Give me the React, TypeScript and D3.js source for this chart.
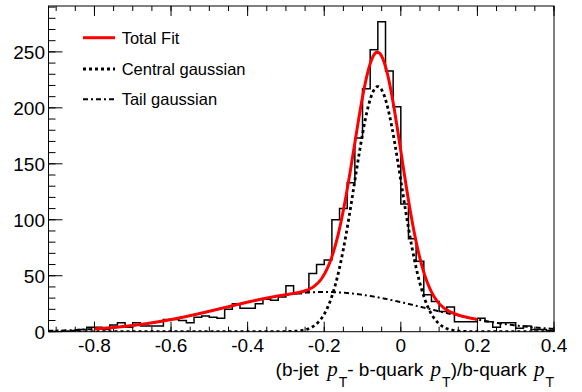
import React from "react";
import * as d3 from "d3";

// ---- data ----
const binStart = -0.92;
const binWidth = 0.02;
const binCounts = [
  0, 0, 0, 1, 2, 4, 4, 2, 6, 8, 4, 8, 5, 5, 5, 11, 11, 10, 8, 13,
  14, 13, 12, 20, 25, 21, 21, 25, 29, 28, 31, 41, 34, 36, 52, 60, 64, 100, 110, 133,
  173, 217, 252, 277, 233, 201, 114, 83, 63, 33, 27, 18, 22, 9, 9, 9, 12, 9, 4, 8,
  8, 3, 5, 2, 2, 1,
];
const binEdges = d3.range(binCounts.length + 1).map((i) => +(binStart + i * binWidth).toFixed(2));

// fit parameters (gaussians)
const centralGauss = { amp: 219, mean: -0.06, sigma: 0.061 };
const tailGauss = { amp: 35.5, mean: -0.2, sigma: 0.26 };
const fitRange = [-0.8, 0.2];

const xDomain = [-0.92, 0.4];
const yDomain = [0, 291];
const xMajorTicks = [-0.8, -0.6, -0.4, -0.2, 0, 0.2, 0.4];
const xTickLabels = ["-0.8", "-0.6", "-0.4", "-0.2", "0", "0.2", "0.4"];
const yMajorTicks = [0, 50, 100, 150, 200, 250];
const yTickLabels = ["0", "50", "100", "150", "200", "250"];
const legendLabels = ["Total Fit", "Central gaussian", "Tail gaussian"];

const W = 582;
const H = 392;
const L = 48.5, R = 554, T = 6, B = 331.7;
const FONT = "'Liberation Sans', Arial, Helvetica, sans-serif";
const SERIF = "'Liberation Serif', 'Times New Roman', serif";

function gauss(g: { amp: number; mean: number; sigma: number }, x: number) {
  return g.amp * Math.exp(-((x - g.mean) ** 2) / (2 * g.sigma * g.sigma));
}

export default function App() {
  const x = d3.scaleLinear().domain(xDomain).range([L, R]);
  const y = d3.scaleLinear().domain(yDomain).range([B, T]);

  // histogram outline
  const pts: [number, number][] = [[binEdges[0], 0]];
  binCounts.forEach((c, i) => {
    pts.push([binEdges[i], c]);
    pts.push([binEdges[i + 1], c]);
  });
  pts.push([binEdges[binEdges.length - 1], 0]);
  const line = d3.line<[number, number]>().x((d) => x(d[0])).y((d) => y(d[1]));
  const histPath = line(pts) || "";

  const fullXs = d3.range(xDomain[0], xDomain[1] + 1e-9, 0.002);
  const fitXs = d3.range(fitRange[0], fitRange[1] + 1e-9, 0.002);
  const totalPath = line(fitXs.map((v) => [v, gauss(centralGauss, v) + gauss(tailGauss, v)])) || "";
  const centralPath = line(fullXs.map((v) => [v, gauss(centralGauss, v)])) || "";
  const tailPath = line(fullXs.map((v) => [v, gauss(tailGauss, v)])) || "";

  const xMinor = d3.range(-0.9, 0.4 + 1e-9, 0.05).map((v) => +v.toFixed(2));
  const yMinor = d3.range(0, 291, 10);

  const clipId = "plotclip";

  return (
    <svg width={W} height={H} style={{ position: "absolute", left: 0, top: 0, background: "#fff" }}>
      <defs>
        <clipPath id={clipId}>
          <rect x={L} y={T} width={R - L} height={B - T} />
        </clipPath>
      </defs>
      <rect x={0} y={0} width={W} height={H} fill="#fff" />

      {/* ticks */}
      <g stroke="#000" strokeWidth={1}>
        {xMinor.map((v, i) => (
          <g key={"xm" + i}>
            <line x1={x(v)} x2={x(v)} y1={B} y2={B - 5} />
            <line x1={x(v)} x2={x(v)} y1={T} y2={T + 5} />
          </g>
        ))}
        {xMajorTicks.map((v, i) => (
          <g key={"xM" + i}>
            <line x1={x(v)} x2={x(v)} y1={B} y2={B - 10} />
            <line x1={x(v)} x2={x(v)} y1={T} y2={T + 10} />
          </g>
        ))}
        {yMinor.map((v, i) => (
          <line key={"ym" + i} x1={L} x2={L + 7} y1={y(v)} y2={y(v)} />
        ))}
        {yMajorTicks.map((v, i) => (
          <line key={"yM" + i} x1={L} x2={L + 14} y1={y(v)} y2={y(v)} />
        ))}
      </g>

      <g clipPath={`url(#${clipId})`}>
        <path d={histPath} fill="none" stroke="#000" strokeWidth={1.5} />
        <path d={tailPath} fill="none" stroke="#000" strokeWidth={2} strokeDasharray="5 3 2 3" />
        <path d={centralPath} fill="none" stroke="#000" strokeWidth={2.8} strokeDasharray="3 3" />
        <path d={totalPath} fill="none" stroke="#ff0000" strokeWidth={3} />
      </g>

      {/* frame */}
      <rect x={L} y={T} width={R - L} height={B - T} fill="none" stroke="#000" strokeWidth={1} />

      {/* tick labels */}
      <g fontFamily={FONT} fontSize={19} fill="#000">
        {xMajorTicks.map((v, i) => (
          <text key={"xl" + i} x={x(v)} y={352} textAnchor="middle">
            {xTickLabels[i]}
          </text>
        ))}
        {yMajorTicks.map((v, i) => (
          <text key={"yl" + i} x={45} y={y(v) + 7} textAnchor="end">
            {yTickLabels[i]}
          </text>
        ))}
      </g>

      {/* axis title */}
      <text x={554} y={376} textAnchor="end" fontFamily={FONT} fontSize={19} fill="#000">
        <tspan>(b-jet </tspan>
        <tspan fontFamily={SERIF} fontStyle="italic" fontSize={21} dx={3}>p</tspan>
        <tspan fontSize={14} dy={11} dx={1}>T</tspan>
        <tspan dy={-11}>- b-quark </tspan>
        <tspan fontFamily={SERIF} fontStyle="italic" fontSize={21} dx={2}>p</tspan>
        <tspan fontSize={14} dy={11} dx={1}>T</tspan>
        <tspan dy={-11}>)/b-quark </tspan>
        <tspan fontFamily={SERIF} fontStyle="italic" fontSize={21} dx={2}>p</tspan>
        <tspan fontSize={14} dy={11} dx={1}>T</tspan>
      </text>

      {/* legend */}
      <g fontFamily={FONT} fontSize={16.5} fill="#000">
        <line x1={83} x2={115} y1={37.7} y2={37.7} stroke="#ff0000" strokeWidth={3} />
        <text x={121.7} y={44}>{legendLabels[0]}</text>
        <line x1={83} x2={115} y1={69} y2={69} stroke="#000" strokeWidth={2.8} strokeDasharray="3 3" />
        <text x={121.7} y={74.5}>{legendLabels[1]}</text>
        <line x1={83} x2={115} y1={99.3} y2={99.3} stroke="#000" strokeWidth={2} strokeDasharray="5 3 2 3" />
        <text x={121.7} y={105}>{legendLabels[2]}</text>
      </g>
    </svg>
  );
}
